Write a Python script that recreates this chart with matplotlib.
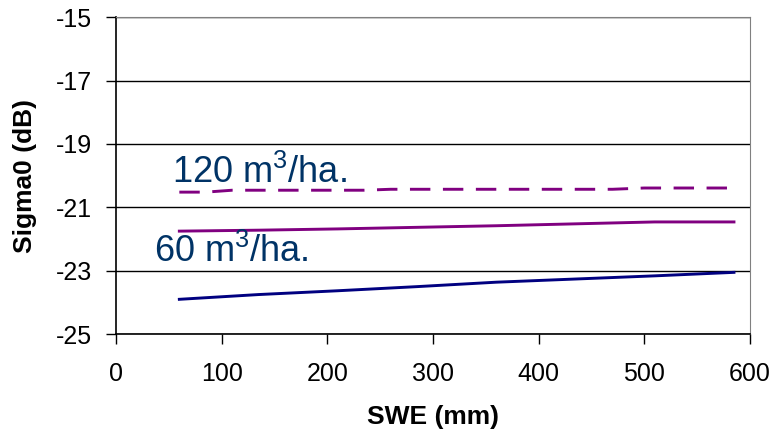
import matplotlib
matplotlib.use("Agg")
import matplotlib.pyplot as plt

plt.rcParams['font.family'] = ['Liberation Sans', 'DejaVu Sans']
plt.rcParams['mathtext.fontset'] = 'custom'
plt.rcParams['mathtext.rm'] = 'Liberation Sans'

# SWE (mm)
swe = [60, 135, 210, 285, 360, 435, 510, 585]
sigma_low = [-23.9, -23.75, -23.63, -23.5, -23.36, -23.26, -23.16, -23.05]
sigma_60 = [-21.75, -21.72, -21.68, -21.63, -21.58, -21.52, -21.46, -21.46]

swe_120 = [60, 85, 110, 235, 260, 470, 500, 585]
sigma_120 = [-20.52, -20.52, -20.46, -20.46, -20.43, -20.43, -20.39, -20.39]

yticks = [-25, -23, -21, -19, -17, -15]
xticks = [0, 100, 200, 300, 400, 500, 600]

fig = plt.figure(figsize=(7.73, 4.38), dpi=100)
ax = fig.add_axes([0.150, 0.237, 0.820, 0.724])

ax.plot(swe, sigma_low, color="#000080", lw=2.1)
ax.plot(swe, sigma_60, color="#800080", lw=2.1)
ax.plot(swe_120, sigma_120, color="#800080", lw=2.1, dashes=(7, 4.3))

ax.set_xlim(0, 600)
ax.set_ylim(-25, -15)
ax.set_xticks(xticks)
ax.set_yticks(yticks)
ax.set_yticklabels([str(v) for v in yticks])
ax.yaxis.grid(True, color="black", lw=1)
ax.set_axisbelow(True)

for s in ["top", "right"]:
    ax.spines[s].set_color("#808080")
for s in ["left", "bottom"]:
    ax.spines[s].set_color("black")
    ax.spines[s].set_linewidth(1.2)

ax.tick_params(axis="both", direction="out", length=7, width=1, labelsize=18)
ax.tick_params(axis="y", pad=10)
ax.tick_params(axis="x", pad=13)

ax.set_xlabel("SWE (mm)", fontsize=19, fontweight="bold", va="center")
ax.xaxis.set_label_coords(0.5, -0.26)
ax.set_ylabel("Sigma0 (dB)", fontsize=19, fontweight="bold", va="center")
ax.yaxis.set_label_coords(-0.143, 0.5)

ax.text(53, -20.24, r"120 $\mathregular{m^3}$/ha.", color="#003366", fontsize=26, va="baseline")
ax.text(36, -22.73, r"60 $\mathregular{m^3}$/ha.", color="#003366", fontsize=26, va="baseline")

fig.savefig("out.png", dpi=100)
